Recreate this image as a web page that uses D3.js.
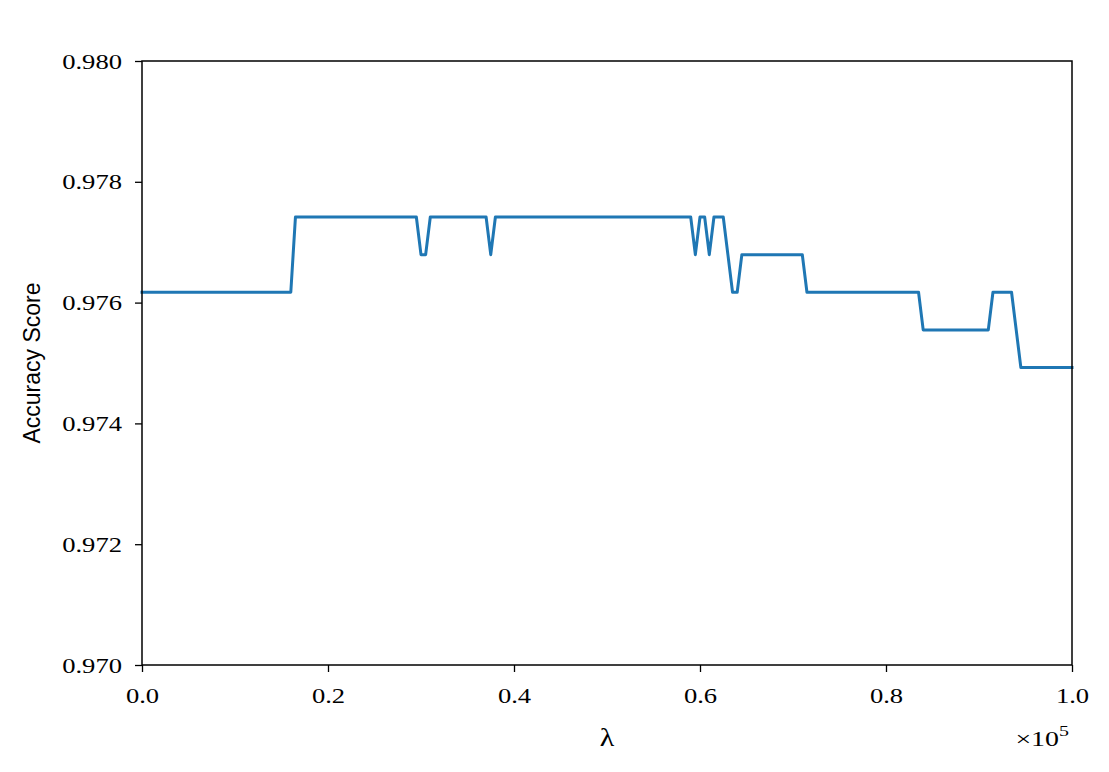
<!DOCTYPE html>
<html>
<head>
<meta charset="utf-8">
<script src="https://cdn.jsdelivr.net/npm/d3@7"></script>
<style>
  html, body { margin: 0; padding: 0; background: #fff; }
  svg { display: block; }
</style>
</head>
<body>
<svg id="chart" width="1109" height="772"></svg>
<script>
// ---- data ----
const lambdas = [0, 16000, 16500, 29500, 30000, 30500, 31000, 37000, 37500, 38000,
  59000, 59500, 60000, 60500, 61000, 61500, 62500, 63000, 63500, 64000, 64500,
  71000, 71500, 83500, 84000, 91000, 91500, 93500, 94000, 94500, 100000];
const accuracy = [0.976171, 0.976171, 0.977417, 0.977417, 0.976794, 0.976794, 0.977417, 0.977417, 0.976794, 0.977417,
  0.977417, 0.976794, 0.977417, 0.977417, 0.976794, 0.977417, 0.977417, 0.976794, 0.976171, 0.976171, 0.976794,
  0.976794, 0.976171, 0.976171, 0.975548, 0.975548, 0.976171, 0.976171, 0.975548, 0.974925, 0.974925];
const xTicks = [0, 20000, 40000, 60000, 80000, 100000];
const xTickLabels = ["0.0", "0.2", "0.4", "0.6", "0.8", "1.0"];
const yTicks = [0.970, 0.972, 0.974, 0.976, 0.978, 0.980];
const yTickLabels = ["0.970", "0.972", "0.974", "0.976", "0.978", "0.980"];
const xLabel = "λ";
const yLabel = "Accuracy Score";

// ---- layout ----
const mLeft = 142, mRight = 1072, mTop = 61, mBottom = 665;
const svg = d3.select("#chart");
const x = d3.scaleLinear().domain([0, 100000]).range([mLeft, mRight]);
const y = d3.scaleLinear().domain([0.970, 0.980]).range([mBottom, mTop]);
const serif = "'Liberation Serif', 'Times New Roman', serif";
const sx = 1.33;

// line
const pts = lambdas.map((l, i) => [l, accuracy[i]]);
svg.append("path")
  .datum(pts)
  .attr("fill", "none")
  .attr("stroke", "#1f77b4")
  .attr("stroke-width", 3)
  .attr("stroke-linejoin", "round")
  .attr("stroke-linecap", "square")
  .attr("d", d3.line().x(d => x(d[0])).y(d => y(d[1])));

// axes
const xAxis = d3.axisBottom(x).tickValues(xTicks).tickFormat((d, i) => xTickLabels[i]).tickSizeOuter(0).tickSize(7).tickPadding(8);
const yAxis = d3.axisLeft(y).tickValues(yTicks).tickFormat((d, i) => yTickLabels[i]).tickSizeOuter(0).tickSize(7).tickPadding(8);

const gx = svg.append("g").attr("transform", `translate(0,${mBottom})`).call(xAxis);
const gy = svg.append("g").attr("transform", `translate(${mLeft},0)`).call(yAxis);

[gx, gy].forEach(g => {
  g.select(".domain").remove();
  g.selectAll(".tick line").attr("stroke", "#000").attr("stroke-width", 1.3);
  g.selectAll(".tick text").attr("fill", "#000").style("font-family", serif).style("font-size", "20px");
});
gx.selectAll(".tick text")
  .attr("y", null).attr("dy", null)
  .attr("transform", `translate(0,${38}) scale(${sx},1)`);
gy.selectAll(".tick text")
  .attr("x", null).attr("dy", null)
  .attr("transform", `translate(-20,7) scale(${sx},1)`);

// frame
svg.append("rect")
  .attr("x", mLeft).attr("y", mTop)
  .attr("width", mRight - mLeft).attr("height", mBottom - mTop)
  .attr("fill", "none").attr("stroke", "#000").attr("stroke-width", 1.5);

// x label
svg.append("text")
  .attr("transform", `translate(607,746) scale(1.2,1)`)
  .attr("text-anchor", "middle")
  .style("font-family", serif).style("font-size", "25px")
  .text(xLabel);

// offset ×10^5
const off = svg.append("text")
  .attr("transform", `translate(1069,746) scale(${sx},1)`)
  .attr("text-anchor", "end")
  .style("font-family", serif).style("font-size", "21px");
off.append("tspan").text("×10");
off.append("tspan").attr("dy", -10).style("font-size", "15px").text("5");

// y label
svg.append("text")
  .attr("transform", `translate(40,${(mTop + mBottom) / 2}) rotate(-90)`)
  .attr("text-anchor", "middle")
  .style("font-family", "'Liberation Sans', Arial, sans-serif").style("font-size", "23px")
  .text(yLabel);
</script>
</body>
</html>
